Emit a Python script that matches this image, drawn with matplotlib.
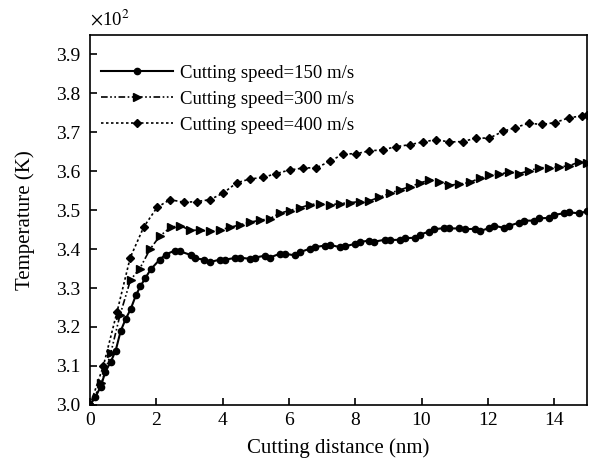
import matplotlib.pyplot as plt
from matplotlib.ticker import FuncFormatter, MultipleLocator

plt.rcParams['font.family'] = ['Liberation Serif', 'DejaVu Serif']
plt.rcParams['mathtext.fontset'] = 'stix'

# cutting distance (nm) and temperature (K)
x150 = [0, 0.16, 0.32, 0.46, 0.62, 0.77, 0.92, 1.07, 1.22, 1.38, 1.52, 1.67, 1.83,
        2.10, 2.28, 2.55, 2.72, 3.03, 3.17, 3.45, 3.63, 3.92, 4.07, 4.37, 4.52, 4.82,
        4.97, 5.27, 5.42, 5.72, 5.87, 6.17, 6.33, 6.63, 6.78, 7.08, 7.23, 7.53, 7.68,
        7.98, 8.13, 8.43, 8.58, 8.89, 9.04, 9.34, 9.49, 9.79, 9.94, 10.24, 10.39,
        10.69, 10.84, 11.14, 11.30, 11.60, 11.75, 12.05, 12.20, 12.50, 12.65, 12.95,
        13.10, 13.40, 13.55, 13.86, 14.01, 14.31, 14.46, 14.76, 15.0]
t150 = [300.0, 302.0, 304.7, 308.5, 311.0, 313.9, 318.9, 322.0, 324.5, 328.1, 330.5,
        332.6, 334.8, 337.3, 338.6, 339.6, 339.4, 338.5, 337.6, 337.3, 336.7, 337.3,
        337.3, 337.7, 337.8, 337.5, 337.8, 338.3, 337.8, 338.8, 338.8, 338.4, 339.2,
        340.1, 340.5, 340.9, 341.1, 340.5, 340.7, 341.3, 341.8, 342.2, 341.9, 342.4,
        342.3, 342.4, 342.8, 342.9, 343.7, 344.5, 345.1, 345.4, 345.3, 345.3, 345.1,
        345.2, 344.6, 345.4, 346.0, 345.4, 346.0, 346.8, 347.3, 347.3, 347.9, 348.0,
        348.8, 349.2, 349.4, 349.2, 349.7]

x300 = [0, 0.34, 0.62, 0.90, 1.22, 1.50, 1.81, 2.10, 2.43, 2.72, 3.00, 3.31, 3.61,
        3.92, 4.22, 4.52, 4.82, 5.12, 5.42, 5.72, 6.02, 6.33, 6.63, 6.93, 7.23, 7.53,
        7.83, 8.13, 8.43, 8.73, 9.04, 9.34, 9.64, 9.94, 10.24, 10.54, 10.84, 11.14,
        11.45, 11.75, 12.05, 12.35, 12.65, 12.95, 13.25, 13.55, 13.86, 14.16, 14.46,
        14.76, 15.0]
t300 = [300.0, 305.5, 313.2, 323.0, 332.1, 335.0, 340.0, 343.3, 345.6, 346.0, 344.9,
        344.8, 344.6, 344.9, 345.6, 346.2, 346.9, 347.4, 347.8, 349.2, 349.9, 350.6,
        351.4, 351.7, 351.3, 351.7, 351.9, 352.2, 352.4, 353.3, 354.3, 355.2, 356.0,
        356.9, 357.8, 357.3, 356.4, 356.7, 357.1, 358.2, 359.0, 359.3, 359.7, 359.4,
        360.1, 360.9, 360.9, 361.1, 361.4, 362.4, 362.2]

x400 = [0, 0.40, 0.81, 1.21, 1.62, 2.02, 2.41, 2.83, 3.23, 3.62, 4.02, 4.42, 4.82,
        5.22, 5.62, 6.02, 6.42, 6.83, 7.23, 7.63, 8.03, 8.43, 8.83, 9.24, 9.64, 10.04,
        10.44, 10.84, 11.24, 11.65, 12.05, 12.45, 12.83, 13.23, 13.64, 14.04, 14.44,
        14.84, 15.0]
t400 = [300.0, 310.0, 323.8, 337.8, 345.7, 350.7, 352.7, 352.0, 352.2, 352.7, 354.4,
        357.0, 358.0, 358.4, 359.4, 360.3, 360.8, 360.9, 362.5, 364.4, 364.5, 365.2,
        365.5, 366.3, 366.8, 367.5, 368.1, 367.5, 367.6, 368.5, 368.5, 370.2, 371.2,
        372.3, 372.0, 372.5, 373.7, 374.2, 374.5]

fig = plt.figure(figsize=(5.89, 4.59), dpi=100)
ax = fig.add_axes([0.153, 0.118, 0.844, 0.806])

ax.plot(x150, t150, color='black', lw=1.5, marker='o', ms=4.5,
        label='Cutting speed=150 m/s')
ax.plot(x300, t300, color='black', lw=1.2, dashes=(4, 1.5, 1, 1.5, 1, 1.5),
        marker='>', ms=6, label='Cutting speed=300 m/s')
ax.plot(x400, t400, color='black', lw=1.2, dashes=(1.5, 1.5),
        marker='D', ms=4.2, label='Cutting speed=400 m/s')

ax.set_xlim(0, 15)
ax.set_ylim(300, 395)
ax.xaxis.set_major_locator(MultipleLocator(2))
ax.yaxis.set_major_locator(MultipleLocator(10))
ax.yaxis.set_major_formatter(FuncFormatter(lambda v, p: '%.1f' % (v / 100)))
ax.tick_params(direction='in', labelsize=14, length=5, width=1.2,
               top=False, right=False)
ax.tick_params(axis='y', pad=7)
ax.tick_params(axis='x', pad=5)
for s in ax.spines.values():
    s.set_linewidth(1.2)

ax.set_xlabel('Cutting distance (nm)', fontsize=15, labelpad=7)
ax.set_ylabel('Temperature (K)', fontsize=15, labelpad=15)
ax.text(0.0, 1.015, r'$\times$10$^2$', transform=ax.transAxes, fontsize=13.5,
        ha='left', va='bottom')

ax.legend(loc='upper left', bbox_to_anchor=(-0.015, 0.97), frameon=False,
          fontsize=13.5, handlelength=3.8, handletextpad=0.4, labelspacing=0.47,
          borderaxespad=0.6)

plt.savefig('out.png', dpi=100)
